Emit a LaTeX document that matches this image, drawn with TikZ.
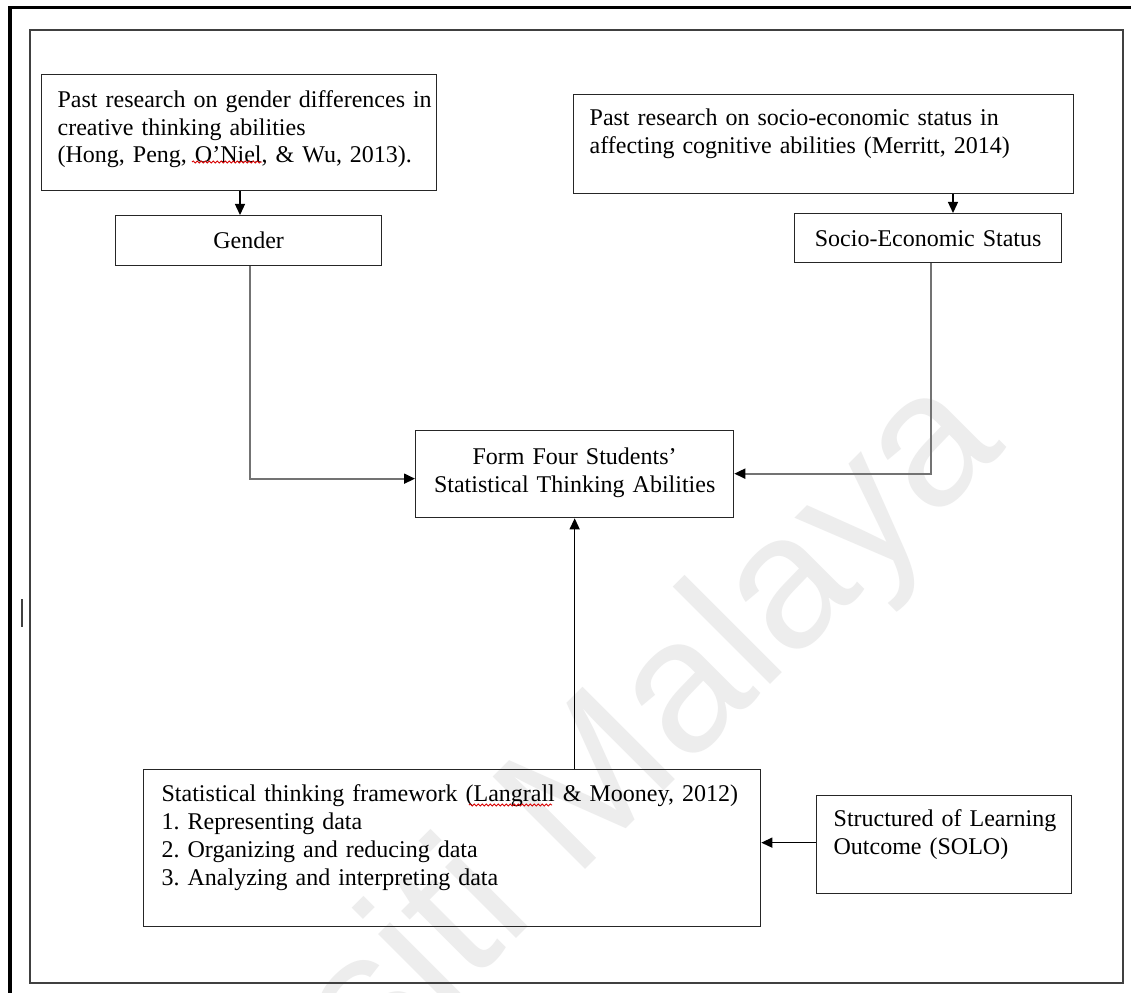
\documentclass[tikz,border=0pt]{standalone}
\usepackage{fontspec}
\setmainfont{Liberation Serif}
\newfontfamily\wmfont{Liberation Sans}
\usetikzlibrary{arrows.meta,decorations.pathmorphing}
\begin{document}
\begin{tikzpicture}[x=1pt,y=-1pt,
  every node/.style={font=\fontsize{24}{27.6}\selectfont},
  boxl/.style={draw=black!85, line width=1.3pt, anchor=north west, inner sep=0pt, align=left},
  boxc/.style={draw=black!85, line width=1.3pt, anchor=north west, inner sep=0pt, align=center},
  conn/.style={line width=1.3pt, -{Triangle[length=11pt,width=10pt,color=black]}},
  grayconn/.style={conn, draw=black!55, line width=1.8pt},
  wave/.style={draw=red!85!black, line width=0.8pt, decorate, decoration={snake, amplitude=1.1pt, segment length=4pt}},
  wm/.style={rotate=45, anchor=base east, text=black!7, inner sep=0pt, font=\wmfont\fontsize{190}{190}\selectfont},
]
\useasboundingbox (0,0) rectangle (1131,992);
\clip (0,0) rectangle (1131,992);
\fill[white] (0,0) rectangle (1131,992);

% watermark
\node[wm] (wmark) at (1008,447) {Universiti Malaya};

% frames
\draw[line width=3.5pt, black] (1140,7.5) -- (10,7.5) -- (10,1000);
\draw[line width=1.5pt, black!75] (30,30) rectangle (1123,983);
\draw[line width=2pt, black!75] (21.7,599) -- (21.7,627);

% boxes
\node[boxl, text width=395pt, text height=33pt, text depth=83pt] (pastgender) at (41,74)
  {\leftskip=16pt\relax Past research on gender differences in\\ creative thinking abilities\\ (Hong, Peng, O’Niel, \& Wu, 2013).\par};
\node[boxc, text width=266pt, text height=33pt, text depth=17pt] (gender) at (115,215) {Gender};

\node[boxl, text width=500pt, text height=31pt, text depth=68pt] (pastses) at (573,94)
  {\leftskip=16pt\relax Past research on socio-economic status in\\ affecting cognitive abilities (Merritt, 2014)\par};
\node[boxc, text width=267pt, text height=33pt, text depth=16pt] (ses) at (794,213) {Socio-Economic Status};

\node[boxc, text width=318pt, text height=34pt, text depth=53pt] (form) at (415,430)
  {Form Four Students’\\ Statistical Thinking Abilities};

\node[boxl, text width=617pt, text height=32pt, text depth=125pt] (frame) at (143,769)
  {\fontsize{24}{27.8}\selectfont\leftskip=18pt\relax Statistical thinking framework (Langrall \& Mooney, 2012)\\ 1.\ Representing data\\ 2.\ Organizing and reducing data\\ 3.\ Analyzing and interpreting data\par};

\node[boxl, text width=255pt, text height=31pt, text depth=67pt] (solo) at (816,795)
  {\leftskip=17pt\relax Structured of Learning\\ Outcome (SOLO)\par};

% spell-check waves
\draw[wave] (192,162) -- (262,162);
\draw[wave] (469,805) -- (552,805);

% connectors
\coordinate (gx) at (240,0);
\coordinate (gx2) at (250,0);
\coordinate (sx) at (953,0);
\coordinate (sx2) at (931,0);
\draw[conn] (pastgender.south -| gx) -- (gender.north -| gx);
\draw[grayconn] (gender.south -| gx2) |- ([yshift=-4.5pt]form.west);
\draw[conn] (pastses.south -| sx) -- (ses.north -| sx);
\draw[grayconn] (ses.south -| sx2) |- ([yshift=0.5pt]form.east);
\draw[conn] (frame.north -| form.south) -- (form.south);
\draw[conn] ([yshift=2pt]solo.west) -- ([yshift=2pt]solo.west -| frame.east);
\end{tikzpicture}
\end{document}
